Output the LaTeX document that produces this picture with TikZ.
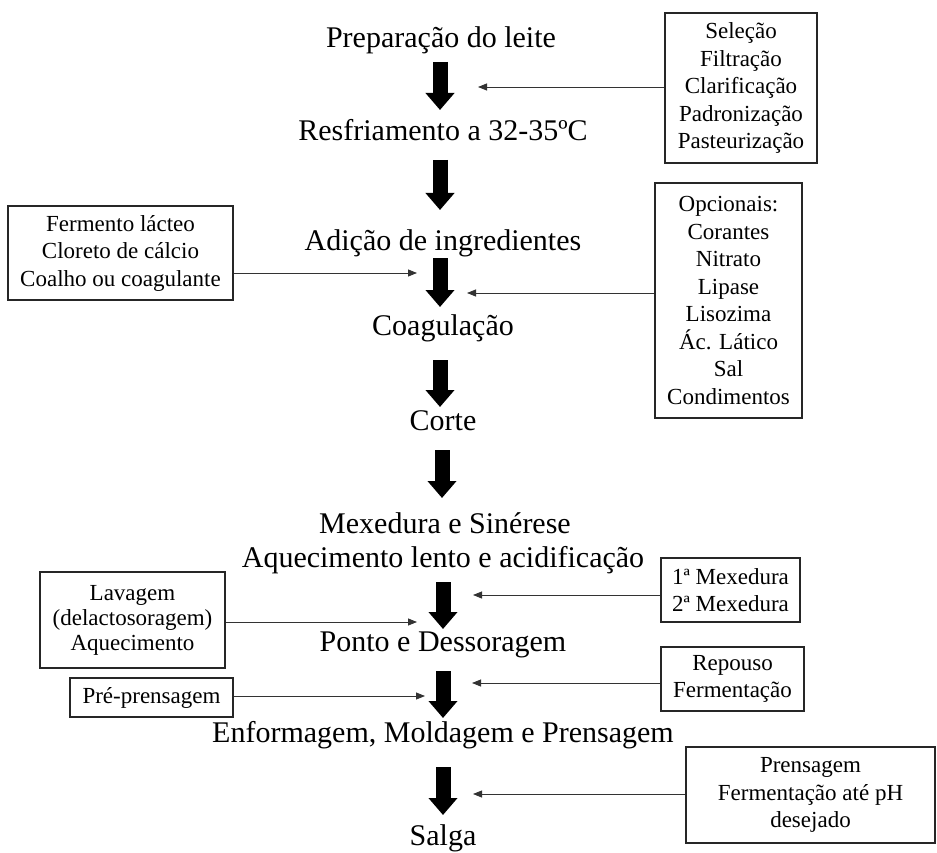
\documentclass[tikz,border=0pt]{standalone}
\usepackage{fontspec}
\setmainfont{Liberation Serif}
\usetikzlibrary{arrows.meta}
\tikzset{
  mainstep/.style={anchor=base, inner sep=0pt, font=\fontsize{30}{33}\selectfont},
  sidebox/.style={draw=black!85, line width=1.3pt, align=center, inner sep=0pt, font=\fontsize{23}{27.5}\selectfont},
  blockarrow/.style={line width=15pt, -{Triangle[width=28pt,length=17pt]}},
  feed/.style={draw=black!80, line width=0.8pt, -{Triangle[width=7pt,length=9pt]}}
}
\begin{document}
\begin{tikzpicture}[x=1pt,y=-1pt]
\useasboundingbox (0,0) rectangle (937,853);
% main steps
\node[mainstep] (s1) at (441,48) {Preparação do leite};
\node[mainstep] (s2) at (443,141) {Resfriamento a 32-35ºC};
\node[mainstep] (s3) at (443,251) {Adição de ingredientes};
\node[mainstep] (s4) at (443,335) {Coagulação};
\node[mainstep] (s5) at (443,430) {Corte};
\node[mainstep] (s6) at (445,533) {Mexedura e Sinérese};
\node[mainstep] (s6b) at (443,567) {Aquecimento lento e acidificação};
\node[mainstep] (s7) at (443,651) {Ponto e Dessoragem};
\node[mainstep] (s8) at (443,742) {Enformagem, Moldagem e Prensagem};
\node[mainstep] (s9) at (443,845) {Salga};
% block arrow ends
\coordinate (a1s) at (440,62);  \coordinate (a1e) at (440,110);
\coordinate (a2s) at (440,160); \coordinate (a2e) at (440,210);
\coordinate (a3s) at (440,258); \coordinate (a3e) at (440,307);
\coordinate (a4s) at (440,360); \coordinate (a4e) at (440,407);
\coordinate (a5s) at (442,450); \coordinate (a5e) at (442,498);
\coordinate (a6s) at (443,582); \coordinate (a6e) at (443,629);
\coordinate (a7s) at (443,671); \coordinate (a7e) at (443,718);
\coordinate (a8s) at (443,767); \coordinate (a8e) at (443,815);
\foreach \i in {1,...,8} {\draw[blockarrow] (a\i s) -- (a\i e);}
% side boxes
\node[sidebox, minimum width=152pt, minimum height=150pt] (b1) at (741,88)
  {Seleção\\Filtração\\Clarificação\\Padronização\\Pasteurização};
\node[sidebox, minimum width=225pt, minimum height=94pt] (b2) at (120.5,253)
  {Fermento lácteo\\Cloreto de cálcio\\Coalho ou coagulante};
\node[sidebox, minimum width=147pt, minimum height=235pt] (b3) at (728.5,300.5)
  {Opcionais:\\Corantes\\Nitrato\\Lipase\\Lisozima\\Ác. Lático\\Sal\\Condimentos};
\node[sidebox, minimum width=139pt, minimum height=64pt] (b4) at (730.5,590)
  {1ª Mexedura\\2ª Mexedura};
\node[sidebox, minimum width=185pt, minimum height=96pt, font=\fontsize{23}{25}\selectfont] (b5) at (132.5,620)
  {Lavagem\\(delactosoragem)\\Aquecimento};
\node[sidebox, minimum width=143pt, minimum height=64pt] (b6) at (732.5,679)
  {Repouso\\Fermentação};
\node[sidebox, minimum width=163pt, minimum height=39pt] (b7) at (151.5,697.5)
  {Pré-prensagem};
\node[sidebox, minimum width=249pt, minimum height=96pt] (b8) at (810.5,795)
  {Prensagem\\Fermentação até pH\\desejado};
% feed arrows
\coordinate (t1) at (478,87);
\coordinate (t2) at (417,273);
\coordinate (t3) at (467,293);
\coordinate (t4) at (473,595);
\coordinate (t5) at (417,622);
\coordinate (t6) at (472,683);
\coordinate (t7) at (425,696);
\coordinate (t8) at (473,794);
\draw[feed] (b1.west |- t1) -- (t1);
\draw[feed] (b2.east |- t2) -- (t2);
\draw[feed] (b3.west |- t3) -- (t3);
\draw[feed] (b4.west |- t4) -- (t4);
\draw[feed] (b5.east |- t5) -- (t5);
\draw[feed] (b6.west |- t6) -- (t6);
\draw[feed] (b7.east |- t7) -- (t7);
\draw[feed] (b8.west |- t8) -- (t8);
\end{tikzpicture}
\end{document}
